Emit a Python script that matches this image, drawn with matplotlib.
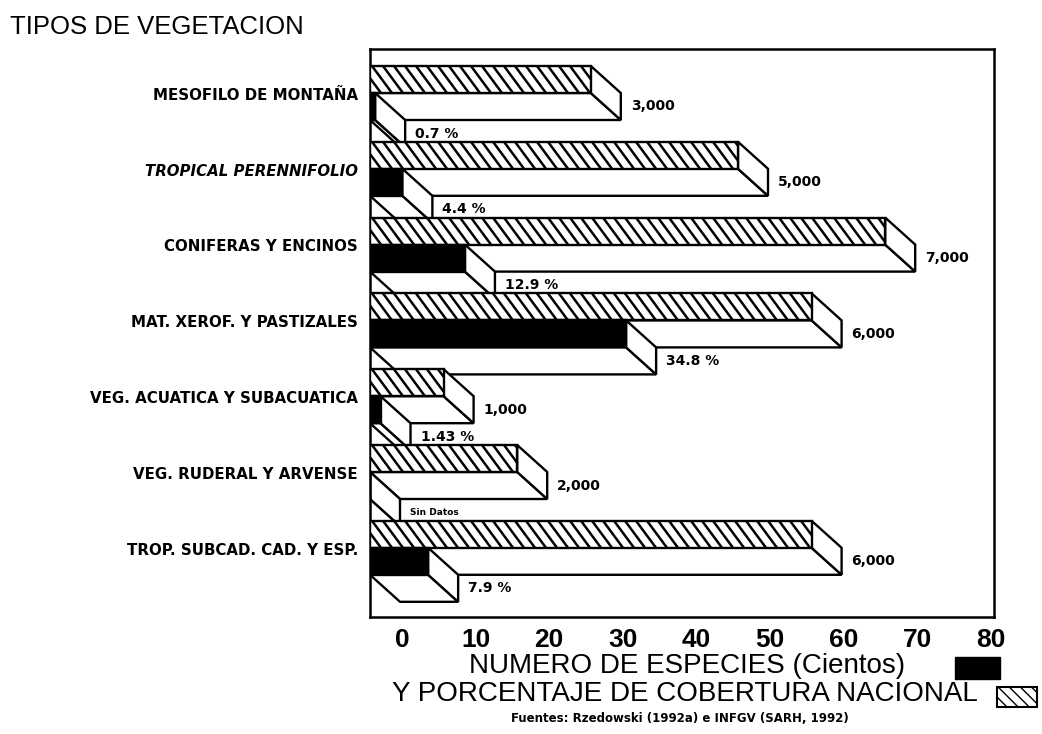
import matplotlib
matplotlib.use("Agg")
import matplotlib.pyplot as plt
from matplotlib.patches import Rectangle, Polygon
from matplotlib.collections import LineCollection

# datos (especies en cientos, cobertura en %)
categorias = ['MESOFILO DE MONTAÑA', 'TROPICAL PERENNIFOLIO', 'CONIFERAS Y ENCINOS',
              'MAT. XEROF. Y PASTIZALES', 'VEG. ACUATICA Y SUBACUATICA',
              'VEG. RUDERAL Y ARVENSE', 'TROP. SUBCAD. CAD. Y ESP.']
especies = [30, 50, 70, 60, 10, 20, 60]
cobertura = [0.7, 4.4, 12.9, 34.8, 1.43, 0, 7.9]
etiq_especies = ['3,000', '5,000', '7,000', '6,000', '1,000', '2,000', '6,000']
etiq_cobertura = ['0.7 %', '4.4 %', '12.9 %', '34.8 %', '1.43 %', 'Sin Datos', '7.9 %']
ticks = [0, 10, 20, 30, 40, 50, 60, 70, 80]

W, H = 1042, 734
fig = plt.figure(figsize=(W / 100, H / 100), dpi=100)
ax = fig.add_axes([370 / W, 1 - 617 / H, (994 - 370) / W, (617 - 49) / H])

sx = 7.36    # px por unidad x
sy = 75.8    # px por fila
h = 27 / sy  # alto de barra
dx = 30 / sx # profundidad
dy = h
LW = 1.7

ax.set_xlim(0, 624 / sx)
ax.set_ylim(551 / sy, -17 / sy)


def caja(x_len, y0, face):
    # caras laterales (blancas)
    fondo = Polygon([(0, y0 + h), (x_len, y0 + h), (x_len + dx, y0 + h + dy), (dx, y0 + h + dy)],
                    closed=True, fc='white', ec='black', lw=LW, zorder=2)
    lado = Polygon([(x_len, y0), (x_len + dx, y0 + dy), (x_len + dx, y0 + h + dy), (x_len, y0 + h)],
                   closed=True, fc='white', ec='black', lw=LW, zorder=2)
    ax.add_patch(fondo)
    ax.add_patch(lado)
    ax.add_patch(Rectangle((0, y0), x_len, h, fc=face, ec='black', lw=LW, zorder=3))


def rayado(x_len, y0):
    shift = 20 / sx
    step = 11 / sx
    segs = []
    x = -shift
    while x < x_len:
        t0 = max(0.0, (0 - x) / shift)
        t1 = min(1.0, (x_len - x) / shift)
        if t1 > t0:
            segs.append([(x + shift * t0, y0 + h * t0), (x + shift * t1, y0 + h * t1)])
        x += step
    ax.add_collection(LineCollection(segs, colors='black', linewidths=1.8, zorder=3.5))


for i, (cat, esp, cob) in enumerate(zip(categorias, especies, cobertura)):
    y0 = i
    caja(esp, y0, 'white')
    rayado(esp, y0)
    caja(cob, y0 + h, 'black')

    ax.text(esp + dx + 10 / sx, y0 + 1.5 * h, etiq_especies[i], fontsize=10,
            fontweight='bold', ha='left', va='center', family='DejaVu Sans')
    fs = 6.5 if cob == 0 else 10
    ax.text(cob + dx + 10 / sx, y0 + 2.5 * h, etiq_cobertura[i], fontsize=fs,
            fontweight='bold', ha='left', va='center', family='DejaVu Sans')
    ax.text(-12 / sx, y0 + h + 0.03, cat, fontsize=10.8, fontweight='bold',
            style='italic' if i == 1 else 'normal',
            ha='right', va='center', family='DejaVu Sans', clip_on=False)

ax.set_yticks([])
ax.set_xticks([t + 32 / sx for t in ticks])
ax.set_xticklabels([str(t) for t in ticks], fontsize=19, fontweight='bold',
                   family='Liberation Sans')
ax.tick_params(axis='x', length=0, pad=8)
for s in ax.spines.values():
    s.set_linewidth(1.8)

fig.text(10 / W, 1 - 27 / H, 'TIPOS DE VEGETACION', fontsize=18.5,
         family='Liberation Sans', ha='left', va='center')
fig.text(905 / W, 1 - 666 / H, 'NUMERO DE ESPECIES (Cientos)', fontsize=20,
         family='Liberation Sans', ha='right', va='center')
fig.text(978 / W, 1 - 694 / H, 'Y PORCENTAJE DE COBERTURA NACIONAL', fontsize=20,
         family='Liberation Sans', ha='right', va='center')
fig.text(680 / W, 1 - 719 / H, 'Fuentes: Rzedowski (1992a) e INFGV (SARH, 1992)', fontsize=8.5,
         fontweight='bold', family='DejaVu Sans', ha='center', va='center')

fig.add_artist(Rectangle((955 / W, 1 - 679 / H), 45 / W, 22 / H, transform=fig.transFigure,
                         fc='black', ec='black'))
fig.add_artist(Rectangle((997 / W, 1 - 707 / H), 40 / W, 20 / H, transform=fig.transFigure,
                         fc='white', ec='black', lw=1.5, hatch='\\\\\\'))

fig.savefig('out.png', dpi=100)
